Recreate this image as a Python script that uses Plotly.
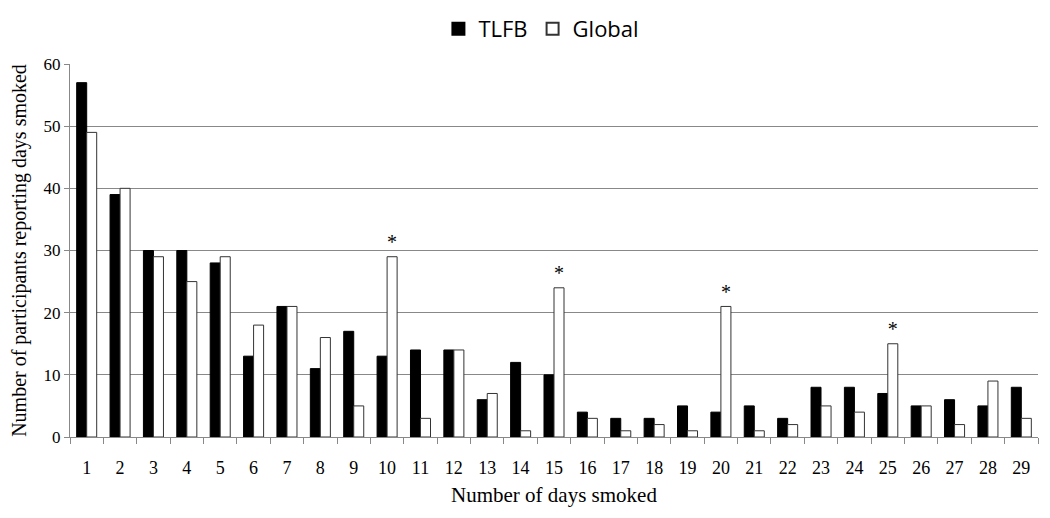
import plotly.graph_objects as go

days = [str(d) for d in range(1, 30)]
tlfb = [57, 39, 30, 30, 28, 13, 21, 11, 17, 13, 14, 14, 6, 12, 10, 4, 3, 3, 5, 4, 5, 3, 8, 8, 7, 5, 6, 5, 8]
global_ = [49, 40, 29, 25, 29, 18, 21, 16, 5, 29, 3, 14, 7, 1, 24, 3, 1, 2, 1, 21, 1, 2, 5, 4, 15, 5, 2, 9, 3]
significant = ["10", "15", "20", "25"]
y_ticks = [0, 10, 20, 30, 40, 50, 60]

serif = "Liberation Serif"
fig = go.Figure()
fig.add_trace(go.Bar(x=days, y=tlfb, name="TLFB",
                     marker=dict(color="black", line=dict(color="black", width=1))))
fig.add_trace(go.Bar(x=days, y=global_, name="Global",
                     marker=dict(color="white", line=dict(color="#333333", width=1)),
                     text=["*" if d in significant else "" for d in days],
                     textposition="outside", cliponaxis=False,
                     textfont=dict(family=serif, size=22, color="black")))

fig.update_layout(
    width=1050, height=518,
    margin=dict(l=62, r=20, t=56, b=89, autoexpand=False),
    paper_bgcolor="white", plot_bgcolor="white",
    barmode="group", bargap=0.4, bargroupgap=0,
    showlegend=True,
    legend=dict(orientation="h", x=0.487, xanchor="center", y=1.15, yanchor="top",
                font=dict(family="Open Sans", size=22, color="black"),
                itemsizing="constant"),
    xaxis=dict(type="category", tickson="boundaries", ticks="outside", ticklen=6,
               tickcolor="#888888", showline=True, linecolor="#888888",
               showgrid=False, ticklabelstandoff=14,
               tickfont=dict(family=serif, size=18, color="black"),
               title=dict(text="Number of days smoked", font=dict(family=serif, size=21, color="black"),
                          standoff=10)),
    yaxis=dict(range=[0, 60], tickvals=y_ticks, ticks="outside", ticklen=5,
               tickcolor="#888888", showline=True, linecolor="#888888",
               showgrid=True, gridcolor="#888888", gridwidth=1, zeroline=False,
               tickfont=dict(family=serif, size=17, color="black"),
               title=dict(text="Number of participants reporting days smoked",
                          font=dict(family=serif, size=20, color="black"), standoff=12)),
)
fig.write_html("out.html")
